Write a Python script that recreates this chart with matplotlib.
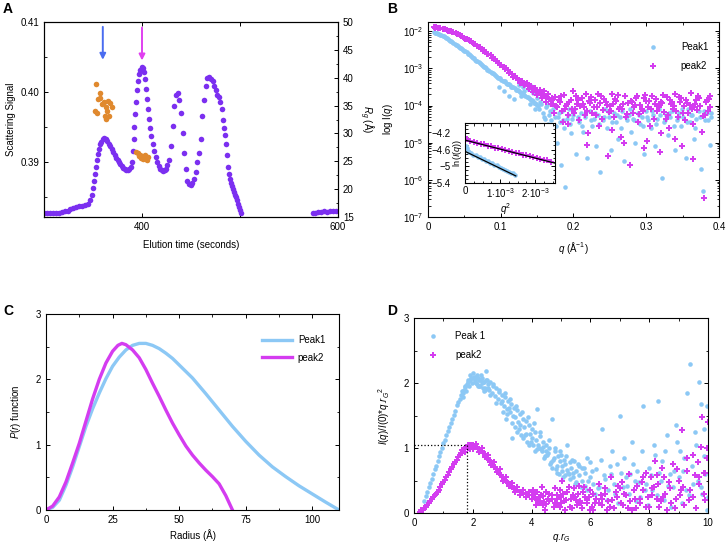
import matplotlib
matplotlib.use('Agg')
import matplotlib.pyplot as plt
from matplotlib.lines import Line2D
from matplotlib.ticker import MultipleLocator
import numpy as np

plt.rcParams['font.family'] = ['Liberation Sans', 'DejaVu Sans']
plt.rcParams['font.size'] = 7
plt.rcParams['mathtext.fontset'] = 'custom'
plt.rcParams['mathtext.rm'] = 'Liberation Sans'
plt.rcParams['mathtext.it'] = 'Liberation Sans:italic'
plt.rcParams['mathtext.bf'] = 'Liberation Sans:bold'
plt.rcParams['axes.linewidth'] = 0.8
plt.rcParams['xtick.direction'] = 'in'
plt.rcParams['ytick.direction'] = 'in'
plt.rcParams['xtick.major.size'] = 3
plt.rcParams['ytick.major.size'] = 3
plt.rcParams['xtick.minor.size'] = 1.8
plt.rcParams['ytick.minor.size'] = 1.8
plt.rcParams['xtick.major.width'] = 0.7
plt.rcParams['ytick.major.width'] = 0.7
plt.rcParams['xtick.minor.width'] = 0.6
plt.rcParams['ytick.minor.width'] = 0.6

purple = '#7b2ff0'
orange = '#e0892e'
lblue = '#8cc8f5'
magenta = '#d43cf0'

# ---- A: elution profile ----
elu_t = [300, 303, 306, 309, 312, 315, 318, 321, 324, 327, 330, 333, 336, 339, 342, 345, 347, 349,
         350.5, 351.5, 352.5, 353.5, 354.5, 355.5, 356.5, 357.5, 358.5, 360, 361.5, 363, 364.5, 366,
         367.5, 369, 370.5, 372, 373.5, 375, 376.5, 378, 379.5, 381, 382.5, 384, 385.5, 387, 388.5,
         389.5, 390.5, 391.5, 392.3, 393.2, 394, 395, 396, 397, 398, 399.5, 401, 402.3, 403.5, 404.5,
         405.5, 406.5, 407.5, 408.5, 409.5, 411, 412.5, 414, 415.5, 417, 418.5, 420, 421.5, 423, 424.5,
         426, 427.8, 429.5, 431.2, 432.9, 434.6, 436.3, 438, 439.7, 441.4, 443, 444.7, 446.4, 448,
         449.8, 451.5, 453.2, 455, 456.6, 458.3, 460, 461.7, 463.4, 465, 466.8, 468.5, 470, 472,
         473.5, 475.3, 477, 478.5, 480, 481.5, 483, 484, 485, 486, 487, 488, 489, 490, 491, 492, 493,
         494, 495, 496, 497, 498, 499, 500, 501,
         574, 577, 580, 583, 586, 589, 592, 595, 598]
elu_sig = [0.3827, 0.3827, 0.3827, 0.3827, 0.3827, 0.3827, 0.3828, 0.3829, 0.3830, 0.3832, 0.3834,
           0.3836, 0.3837, 0.3837, 0.3838, 0.3840, 0.3845, 0.3852,
           0.3862, 0.3872, 0.3882, 0.3892, 0.3902, 0.3911, 0.3919, 0.3925, 0.3929, 0.3932, 0.3934,
           0.3933, 0.3930, 0.3926, 0.3922, 0.3918, 0.3914, 0.3910, 0.3906, 0.3903, 0.3900, 0.3897,
           0.3894, 0.3891, 0.3889, 0.3888, 0.3888, 0.3889, 0.3892, 0.3900, 0.3915, 0.3932, 0.3950,
           0.3968, 0.3985, 0.4002, 0.4016, 0.4026, 0.4032, 0.4035, 0.4034, 0.4028, 0.4018, 0.4004,
           0.3990, 0.3975, 0.3961, 0.3948, 0.3937, 0.3926, 0.3916, 0.3907, 0.3900, 0.3894, 0.3890,
           0.3888, 0.3887, 0.3888, 0.3889, 0.3895, 0.3903, 0.3922, 0.3951, 0.3980, 0.3996, 0.3999,
           0.3989, 0.3970, 0.3941, 0.3913, 0.3889, 0.3872, 0.3868, 0.3867, 0.3869, 0.3875, 0.3886,
           0.3899, 0.3913, 0.3932, 0.3965, 0.3989, 0.4008, 0.4020, 0.4022, 0.4019, 0.4015, 0.4009,
           0.4003, 0.3996, 0.3992, 0.3985, 0.3976, 0.3960, 0.3948, 0.3939, 0.3925, 0.3910, 0.3893,
           0.3882, 0.3876, 0.3870, 0.3865, 0.3861, 0.3857, 0.3853, 0.3849, 0.3845, 0.3840, 0.3836,
           0.3831, 0.3827,
           0.38265, 0.3827, 0.3828, 0.3828, 0.3829, 0.3828, 0.3829, 0.3829, 0.3829]
rg_t = [353.2, 356.9, 355.0, 357.0, 352.5, 354.0, 359.6, 361.3, 363.0, 365.8, 367.5, 369.3, 364.1,
        361.8, 363.4, 366.0,
        394, 396, 398, 400, 402, 404, 406, 397, 401, 405, 403, 399]
rg_val = [38.8, 37.2, 36.2, 36.3, 34.0, 33.6, 35.3, 35.6, 34.8, 35.9, 35.5, 34.8, 34.0, 33.2, 32.6,
          33.1,
          26.6, 26.4, 26.2, 26.0, 25.7, 25.5, 25.8, 25.9, 25.4, 25.2, 26.1, 25.6]
arrow_t = [360, 400]
arrow_top = [0.4097, 0.4096]
arrow_tip = [0.4042, 0.4041]
arrow_col = ['#4a6cf0', '#e040f0']

# ---- B: scattering curves, log10 I ----
b1_q = [0.008, 0.011, 0.014, 0.017, 0.020, 0.023, 0.026, 0.029, 0.032, 0.035, 0.038, 0.041, 0.044,
        0.047, 0.050, 0.053, 0.056, 0.059, 0.062, 0.065, 0.068, 0.071, 0.074, 0.077, 0.080, 0.083,
        0.086, 0.089, 0.092, 0.095, 0.098, 0.101, 0.104, 0.107, 0.110, 0.113, 0.116, 0.119, 0.122,
        0.125, 0.128, 0.131, 0.134, 0.137, 0.140, 0.143, 0.146, 0.149,
        0.0095, 0.0125, 0.0155, 0.0185, 0.0215, 0.0245, 0.0275, 0.0305, 0.0335, 0.0365, 0.0395,
        0.0425, 0.0455, 0.0485, 0.0515, 0.0545, 0.0575, 0.0605, 0.0635, 0.0665, 0.0695, 0.0725,
        0.0755, 0.0785, 0.0815, 0.0845, 0.0875, 0.0905, 0.0935, 0.0965, 0.0995, 0.1025, 0.1055,
        0.1085, 0.1115, 0.1145, 0.1175, 0.1205, 0.1235, 0.1265, 0.1295, 0.1325, 0.1355, 0.1385,
        0.1415, 0.1445, 0.1475, 0.1505,
        0.125, 0.130, 0.135, 0.138, 0.142, 0.132, 0.145, 0.128, 0.140, 0.147, 0.105, 0.112, 0.118,
        0.098,
        0.150, 0.153, 0.156, 0.159, 0.162, 0.165, 0.168, 0.171, 0.174, 0.177, 0.180, 0.183, 0.186,
        0.189, 0.192, 0.195, 0.198, 0.201, 0.204, 0.207, 0.210, 0.213, 0.216, 0.219, 0.222, 0.225,
        0.228, 0.231, 0.234, 0.237, 0.240, 0.243, 0.246, 0.249, 0.252, 0.255, 0.258, 0.261, 0.264,
        0.267, 0.270, 0.273, 0.276, 0.279, 0.282, 0.285, 0.288, 0.291, 0.294, 0.297, 0.300, 0.303,
        0.306, 0.309, 0.312, 0.315, 0.318, 0.321, 0.324, 0.327, 0.330, 0.333, 0.336, 0.339, 0.342,
        0.345, 0.348, 0.351, 0.354, 0.357, 0.360, 0.363, 0.366, 0.369, 0.372, 0.375, 0.378, 0.381,
        0.384, 0.387, 0.389,
        0.1515, 0.1545, 0.1575, 0.1605, 0.1635, 0.1665, 0.1695, 0.1725, 0.1755, 0.1785, 0.1815,
        0.1845, 0.1875, 0.1905, 0.1935, 0.1965, 0.1995, 0.2055, 0.2115, 0.2175, 0.2235, 0.2295,
        0.2355, 0.2415, 0.2475, 0.2535, 0.2595, 0.2655, 0.2715, 0.2775, 0.2835, 0.2895, 0.2955,
        0.3015, 0.3075, 0.3135, 0.3195, 0.3255, 0.3315, 0.3375, 0.3435, 0.3495, 0.3555, 0.3615,
        0.3675, 0.3735, 0.3795, 0.3855, 0.3885]
b1_logI = [-2.02, -2.05, -2.06, -2.09, -2.12, -2.15, -2.19, -2.23, -2.27, -2.31, -2.36, -2.40, -2.44,
           -2.48, -2.53, -2.57, -2.62, -2.67, -2.72, -2.76, -2.81, -2.86, -2.90, -2.95, -3.00, -3.05,
           -3.10, -3.13, -3.18, -3.22, -3.26, -3.30, -3.34, -3.38, -3.42, -3.45, -3.50, -3.53, -3.58,
           -3.60, -3.66, -3.68, -3.74, -3.78, -3.82, -3.86, -3.92, -3.95,
           -2.04, -2.04, -2.08, -2.11, -2.13, -2.18, -2.20, -2.25, -2.29, -2.34, -2.37, -2.43, -2.45,
           -2.51, -2.54, -2.60, -2.63, -2.70, -2.73, -2.79, -2.83, -2.88, -2.93, -2.97, -3.03, -3.06,
           -3.12, -3.16, -3.20, -3.25, -3.27, -3.33, -3.35, -3.41, -3.43, -3.49, -3.51, -3.57, -3.59,
           -3.64, -3.67, -3.72, -3.76, -3.80, -3.85, -3.89, -3.94, -3.99,
           -3.45, -3.50, -3.42, -3.55, -3.48, -3.62, -3.65, -3.75, -3.95, -4.10, -3.62, -3.75, -3.82,
           -3.50,
           -3.80, -4.10, -3.95, -4.30, -4.05, -4.50, -4.15, -4.60, -4.30, -5.00, -4.20, -5.60, -4.40,
           -6.20, -4.25, -4.50, -4.35, -4.10, -5.30, -4.45, -4.20, -4.70, -4.30, -5.40, -4.15, -4.55,
           -4.35, -5.10, -4.25, -5.80, -4.40, -4.10, -4.60, -4.30, -5.20, -4.20, -4.45, -4.90, -4.30,
           -4.15, -5.50, -4.40, -4.25, -4.70, -4.35, -5.00, -4.20, -4.50, -4.30, -5.30, -4.15, -4.40,
           -4.60, -4.25, -5.10, -4.35, -4.10, -5.95, -4.45, -4.25, -4.80, -4.30, -4.15, -5.20, -4.40,
           -4.20, -4.55, -4.30, -5.40, -4.10, -4.45, -4.25, -4.90, -4.35, -4.15, -5.70, -6.30, -4.40,
           -4.20, -5.05, -4.30,
           -4.00, -3.90, -4.20, -4.35, -3.98, -4.25, -4.40, -4.10, -4.55, -4.30, -4.45, -4.15, -4.60,
           -4.35, -4.10, -4.75, -4.25, -4.30, -4.55, -4.15, -4.40, -4.20, -4.50, -4.30, -4.15, -4.45,
           -4.25, -4.60, -4.30, -4.10, -4.40, -4.25, -4.55, -4.30, -4.15, -4.50, -4.25, -4.40, -4.20,
           -4.55, -4.30, -4.10, -4.45, -4.25, -4.60, -4.30, -4.15, -4.40, -4.20]
b2_q = [0.008, 0.011, 0.014, 0.017, 0.020, 0.023, 0.026, 0.029, 0.032, 0.035, 0.038, 0.041, 0.044,
        0.047, 0.050, 0.053, 0.056, 0.059, 0.062, 0.065, 0.068, 0.071, 0.074, 0.077, 0.080, 0.083,
        0.086, 0.089, 0.092, 0.095, 0.098, 0.101, 0.104, 0.107, 0.110, 0.113, 0.116, 0.119, 0.122,
        0.125, 0.128, 0.131, 0.134, 0.137, 0.140, 0.143, 0.146, 0.149, 0.152, 0.155, 0.158, 0.161,
        0.164, 0.167, 0.170,
        0.0095, 0.0155, 0.0215, 0.0275, 0.0335, 0.0395, 0.0455, 0.0515, 0.0575, 0.0635, 0.0695,
        0.0755, 0.0815, 0.0875, 0.0935, 0.0995, 0.1055, 0.1115, 0.1175, 0.1235, 0.1265, 0.1295,
        0.1325, 0.1355, 0.1385, 0.1415, 0.1445, 0.1475, 0.1505, 0.1535, 0.1565, 0.1595, 0.1625,
        0.1655, 0.1685,
        0.172, 0.175, 0.178, 0.181, 0.184, 0.187, 0.190, 0.193, 0.196, 0.199, 0.202, 0.205, 0.208,
        0.211, 0.214, 0.217, 0.220, 0.223, 0.226, 0.229, 0.232, 0.235, 0.238, 0.241, 0.244, 0.247,
        0.250, 0.253, 0.256, 0.259, 0.262, 0.265, 0.268, 0.271, 0.274, 0.277, 0.280, 0.283, 0.286,
        0.289, 0.292, 0.295, 0.298, 0.301, 0.304, 0.307, 0.310, 0.313, 0.316, 0.319, 0.322, 0.325,
        0.328, 0.331, 0.334, 0.337, 0.340, 0.343, 0.346, 0.349, 0.352, 0.355, 0.358, 0.361, 0.364,
        0.367, 0.370, 0.373, 0.376, 0.379, 0.382, 0.385, 0.388,
        0.1735, 0.1795, 0.1855, 0.1915, 0.1975, 0.2035, 0.2095, 0.2155, 0.2215, 0.2275, 0.2335,
        0.2395, 0.2455, 0.2515, 0.2575, 0.2635, 0.2695, 0.2755, 0.2815, 0.2875, 0.2935, 0.2995,
        0.3055, 0.3115, 0.3175, 0.3235, 0.3295, 0.3355, 0.3415, 0.3475, 0.3535, 0.3595, 0.3655,
        0.3715, 0.3775, 0.3835, 0.3875, 0.2525, 0.2965, 0.3390, 0.2185, 0.3645, 0.1925, 0.3205,
        0.1705, 0.1765, 0.1825, 0.1885, 0.1945, 0.2005, 0.2065, 0.2125, 0.2185, 0.2245, 0.2305,
        0.2365, 0.2425, 0.2485, 0.2545, 0.2605, 0.2665, 0.2725, 0.2785, 0.2845, 0.2905, 0.2965,
        0.3025, 0.3085, 0.3145, 0.3205, 0.3265, 0.3325, 0.3385, 0.3445, 0.3505, 0.3565, 0.3625,
        0.3685, 0.3745, 0.3805, 0.3865]
b2_logI = [-1.88, -1.89, -1.90, -1.91, -1.93, -1.94, -1.96, -1.98, -2.00, -2.03, -2.05, -2.08, -2.11,
           -2.14, -2.17, -2.20, -2.24, -2.27, -2.31, -2.35, -2.39, -2.43, -2.47, -2.51, -2.56, -2.60,
           -2.65, -2.70, -2.75, -2.80, -2.85, -2.90, -2.95, -3.00, -3.05, -3.10, -3.15, -3.20, -3.25,
           -3.30, -3.34, -3.39, -3.43, -3.47, -3.51, -3.55, -3.58, -3.62, -3.66, -3.69, -3.72, -3.75,
           -3.78, -3.82, -3.85,
           -1.90, -1.92, -1.95, -1.99, -2.03, -2.08, -2.14, -2.21, -2.27, -2.35, -2.43, -2.52, -2.60,
           -2.71, -2.81, -2.91, -3.02, -3.12, -3.23, -3.31, -3.38, -3.33, -3.45, -3.40, -3.55, -3.46,
           -3.64, -3.52, -3.72, -3.58, -3.80, -3.62, -3.90, -3.70, -3.95,
           -3.95, -3.78, -4.05, -3.90, -4.15, -3.72, -4.00, -4.25, -3.85, -3.62, -4.10, -3.95, -4.40,
           -3.80, -4.05, -3.70, -4.75, -3.92, -4.20, -3.85, -4.05, -4.55, -3.75, -4.12, -3.90, -5.35,
           -4.00, -3.68, -4.30, -3.88, -4.10, -4.85, -3.95, -3.75, -4.22, -5.60, -3.90, -4.05, -3.80,
           -4.45, -3.98, -4.15, -3.72, -4.95, -3.88, -4.10, -4.35, -3.82, -4.00, -5.25, -3.92, -4.18,
           -3.78, -4.60, -3.95, -4.08, -3.70, -4.30, -3.90, -5.10, -4.02, -3.85, -4.20, -3.66, -4.50,
           -3.95, -4.12, -3.80, -4.70, -6.50, -3.90, -4.15, -3.75,
           -4.20, -3.85, -4.45, -3.95, -4.10, -3.75, -4.00, -4.25, -3.88, -4.05, -3.70, -4.35, -3.98,
           -4.15, -3.82, -4.05, -5.00, -3.92, -4.20, -3.75, -4.10, -3.88, -4.55, -3.95, -4.05, -3.72,
           -4.25, -3.90, -4.15, -3.80, -4.40, -3.98, -4.05, -3.75, -4.28, -3.85, -4.05, -4.65, -5.15,
           -4.90, -5.05, -5.45, -4.50, -4.75,
           -3.80, -4.00, -3.75, -4.10, -3.90, -4.20, -3.85, -3.95, -4.15, -3.78, -4.25, -3.92, -3.82,
           -4.18, -3.95, -3.72, -4.10, -4.30, -3.88, -3.98, -4.22, -3.80, -4.05, -3.75, -4.15, -3.90,
           -4.35, -3.85, -4.02, -3.78, -4.20, -3.92, -4.10, -3.85, -4.00, -4.25, -3.82]

# inset: Guinier region, ln I vs q^2
g1_q2 = [0.00002, 0.00004, 0.00006, 0.00008, 0.00012, 0.00018, 0.00024, 0.00030, 0.00036, 0.00042,
         0.00048, 0.00054, 0.00060, 0.00066, 0.00072, 0.00078, 0.00084, 0.00090, 0.00096, 0.00102,
         0.00108, 0.00114, 0.00120, 0.00126, 0.00132, 0.00138, 0.00144]
g1_lnI = [-4.52, -4.58, -4.55, -4.63, -4.66, -4.68, -4.72, -4.73, -4.77, -4.78, -4.82, -4.83, -4.87,
          -4.88, -4.92, -4.93, -4.97, -4.98, -5.02, -5.03, -5.07, -5.08, -5.12, -5.13, -5.16, -5.17,
          -5.20]
g2_q2 = [0.00005, 0.00015, 0.00025, 0.00035, 0.00045, 0.00055, 0.00065, 0.00075, 0.00085, 0.00095,
         0.00105, 0.00115, 0.00125, 0.00135, 0.00145, 0.00155, 0.00165, 0.00175, 0.00185, 0.00195,
         0.00205, 0.00215, 0.00225, 0.00235, 0.00245]
g2_lnI = [-4.35, -4.40, -4.41, -4.43, -4.46, -4.47, -4.51, -4.52, -4.55, -4.56, -4.59, -4.61, -4.63,
          -4.65, -4.67, -4.69, -4.72, -4.73, -4.76, -4.78, -4.80, -4.82, -4.85, -4.86, -4.89]
fit1_q2 = [0.0, 0.00145]
fit1_ln = [-4.64, -5.23]
fit2_q2 = [0.0, 0.0026]
fit2_ln = [-4.37, -4.93]

# ---- C: pair distance distributions ----
pr1_r = [0, 2.5, 5, 7.5, 10, 12.5, 15, 17.5, 20, 22.5, 25, 27.5, 30, 32.5, 35, 37.5, 40, 42.5, 45,
         47.5, 50, 55, 60, 65, 70, 75, 80, 85, 90, 95, 100, 105, 110]
pr1_p = [0, 0.04, 0.15, 0.38, 0.66, 0.97, 1.28, 1.55, 1.79, 2.01, 2.20, 2.34, 2.45, 2.52, 2.55, 2.55,
         2.52, 2.47, 2.40, 2.32, 2.22, 2.02, 1.78, 1.53, 1.28, 1.05, 0.84, 0.66, 0.51, 0.37, 0.245,
         0.12, 0]
pr2_r = [0, 2.5, 5, 7.5, 10, 12.5, 15, 17.5, 20, 22.5, 25, 27, 28.5, 30, 32.5, 35, 37.5, 40, 42.5, 45,
         47.5, 50, 52.5, 55, 57.5, 60, 62.5, 65, 67.5, 70]
pr2_p = [0, 0.06, 0.2, 0.43, 0.72, 1.02, 1.36, 1.70, 2.00, 2.25, 2.43, 2.52, 2.55, 2.53, 2.45, 2.33,
         2.15, 1.94, 1.74, 1.53, 1.33, 1.15, 0.98, 0.84, 0.72, 0.61, 0.51, 0.40, 0.22, 0]

# ---- D: dimensionless Kratky ----
k1_x = [0.35, 0.40, 0.45, 0.50, 0.55, 0.60, 0.65, 0.70, 0.75, 0.80, 0.85, 0.90, 0.95, 1.00, 1.05,
        1.10, 1.15, 1.20, 1.25, 1.30, 1.35, 1.40, 1.45, 1.50, 1.55, 1.60, 1.65, 1.70, 1.75, 1.80,
        1.85, 1.90, 1.95, 2.00,
        1.62, 1.68, 1.72, 1.78, 1.82, 1.88, 1.92, 1.98, 2.02, 2.06, 2.10, 2.14, 2.18, 2.22, 2.26,
        2.30, 2.34, 2.38, 2.42, 2.46, 2.50,
        2.05, 2.10, 2.15, 2.20, 2.25, 2.30, 2.35, 2.40, 2.45, 2.50, 2.55, 2.60, 2.65, 2.70, 2.75,
        2.80, 2.85, 2.90, 2.95, 3.00, 3.05, 3.10, 3.15, 3.20, 3.25, 3.30, 3.35, 3.40, 3.45, 3.50,
        3.55, 3.60, 3.65, 3.70, 3.75, 3.80, 3.85, 3.90, 3.95, 4.00, 4.05, 4.10, 4.15, 4.20, 4.25,
        4.30, 4.35, 4.40, 4.45, 4.50, 4.55, 4.60, 4.65, 4.70, 4.75, 4.80, 4.85, 4.90, 4.95, 5.00,
        5.05, 5.10, 5.15, 5.20, 5.25, 5.30, 5.35, 5.40, 5.45, 5.50, 5.60, 5.70, 5.80, 5.90, 6.00,
        6.10, 6.20, 6.30, 6.40, 6.50, 6.60, 6.70, 6.80, 6.90, 7.00, 7.10, 7.20, 7.30, 7.40, 7.50,
        7.60, 7.70, 7.80, 7.90, 8.00, 8.10, 8.20, 8.30, 8.40, 8.50, 8.60, 8.70, 8.80, 8.90, 9.00,
        9.10, 9.20, 9.30, 9.40, 9.50, 9.60, 9.70, 9.75, 9.80, 9.85, 9.90, 9.95, 10.0,
        3.02, 3.12, 3.22, 3.32, 3.42, 3.52, 3.62, 3.72, 3.82, 3.92, 4.02, 4.12, 4.22, 4.32, 4.42,
        4.52, 4.62, 4.72, 4.82, 4.92, 5.02, 5.12, 5.22, 5.32, 5.42, 5.52, 5.62, 5.72, 5.82, 5.92,
        6.05, 6.25, 6.45, 6.65, 6.85, 7.05, 7.25, 7.45, 7.65, 7.85, 8.05, 8.25, 8.45, 8.65, 8.85,
        9.05, 9.25, 9.45, 9.65, 9.85,
        2.08, 2.18, 2.28, 2.38, 2.48, 2.58, 2.68, 2.78, 2.88, 2.98, 3.08, 3.18, 3.28, 3.38, 3.48,
        3.58, 3.68, 3.78, 3.88, 3.98, 4.08, 4.18, 4.28, 4.38, 4.48, 4.58, 4.68, 4.78, 4.88, 4.98,
        5.08, 5.18, 5.28, 5.38, 5.48, 5.58, 5.68, 5.78, 5.88, 5.98, 6.15, 6.35, 6.55, 6.75, 6.95,
        7.15, 7.35, 7.55, 7.75, 7.95, 8.15, 8.35, 8.55, 8.75, 8.95, 9.15, 9.35, 9.55, 9.75, 9.95]
k1_y = [0.19, 0.26, 0.33, 0.40, 0.46, 0.53, 0.60, 0.67, 0.73, 0.80, 0.87, 0.94, 1.00, 1.07, 1.13,
        1.20, 1.26, 1.33, 1.39, 1.45, 1.51, 1.57, 1.66, 1.71, 1.76, 1.81, 1.85, 1.90, 1.94, 1.98,
        2.01, 2.04, 2.07, 2.08,
        1.88, 1.78, 1.95, 1.88, 2.05, 1.95, 2.12, 2.00, 2.15, 2.02, 2.10, 1.98, 2.07, 1.95, 2.05,
        2.00, 1.92, 2.02, 1.90, 2.18, 1.93,
        2.10, 2.00, 2.12, 2.05, 1.96, 2.08, 2.02, 1.92, 2.05, 1.98, 1.90, 2.02, 1.85, 1.95, 1.80,
        1.92, 1.75, 1.86, 1.70, 1.82, 1.65, 1.78, 1.60, 1.72, 1.55, 1.68, 1.15, 1.62, 1.48, 1.58,
        1.40, 1.52, 1.20, 1.45, 1.32, 1.42, 1.10, 1.35, 1.22, 1.30, 1.05, 1.25, 1.12, 1.60, 1.00,
        1.18, 0.95, 1.10, 0.88, 1.05, 0.92, 1.00, 0.78, 1.45, 0.85, 0.95, 0.72, 0.88, 0.80, 0.90,
        0.65, 0.82, 0.75, 1.05, 0.62, 0.78, 0.70, 0.55, 0.80, 0.65, 0.72, 0.50, 0.62, 0.85, 0.55,
        0.45, 0.68, 0.40, 1.30, 0.52, 0.35, 0.60, 0.45, 0.75, 1.50, 0.40, 0.55, 0.30, 1.10, 0.50,
        0.65, 0.25, 1.65, 0.45, 0.70, 0.35, 0.90, 1.72, 0.50, 0.20, 1.20, 0.60, 0.40, 1.35, 0.55,
        0.15, 0.85, 1.85, 2.30, 0.45, 1.05, 2.02, 1.68, 0.30, 1.30, 0.60, 1.65, 0.25,
        1.55, 1.45, 1.62, 1.38, 1.32, 1.25, 1.35, 1.15, 1.22, 1.05, 1.15, 0.95, 1.05, 0.98, 0.85,
        0.90, 0.75, 0.82, 0.68, 0.60, 0.72, 0.58, 0.66, 0.52, 0.62, 0.48, 0.58, 0.70, 0.42, 0.50,
        0.65, 0.38, 0.58, 0.72, 0.30, 0.62, 0.42, 0.75, 0.48, 0.35, 0.58, 0.28, 0.80, 0.42, 0.65,
        0.95, 0.35, 0.72, 0.50, 0.88,
        2.05, 1.96, 2.12, 1.88, 2.05, 1.82, 1.98, 1.70, 1.90, 1.72, 1.85, 1.52, 1.75, 1.50, 1.65,
        1.30, 1.55, 1.20, 1.48, 1.10, 1.38, 0.98, 1.25, 1.02, 0.95, 1.12, 0.70, 1.00, 0.62, 0.95,
        0.55, 0.88, 0.60, 0.82, 0.45, 0.75, 0.40, 0.70, 0.35, 0.78, 0.30, 0.82, 0.20, 0.95, 0.15,
        0.85, 0.60, 0.18, 0.95, 0.12, 1.05, 0.62, 0.95, 0.10, 1.10, 0.65, 0.28, 1.25, 0.40, 0.05]
k2_x = [0.20, 0.25, 0.30, 0.35, 0.40, 0.45, 0.50, 0.55, 0.60, 0.65, 0.70, 0.75, 0.80, 0.85, 0.90,
        0.95, 1.00, 1.05, 1.10, 1.15, 1.20, 1.25, 1.30, 1.35, 1.40, 1.45, 1.50, 1.55, 1.60, 1.65,
        1.70, 1.75, 1.80, 1.85, 1.90, 1.95, 2.00, 2.05, 2.10, 2.15, 2.20, 2.25, 2.30, 2.35, 2.40,
        2.45, 2.50, 2.55, 2.60, 2.65, 2.70, 2.75, 2.80, 2.85, 2.90, 2.95, 3.00, 3.05, 3.10, 3.15,
        3.20, 3.25, 3.30, 3.35, 3.40, 3.45, 3.50, 3.60, 3.70, 3.80, 3.90, 4.00,
        1.62, 1.72, 1.82, 1.92, 2.02, 2.12, 2.22, 2.32, 2.42, 2.52, 2.62, 2.72, 2.82, 2.92, 3.02,
        3.12, 3.22, 3.32, 3.42, 3.52, 3.62, 3.72, 3.82, 3.92, 4.02, 4.12, 4.22, 4.32, 4.42,
        4.10, 4.20, 4.30, 4.40, 4.50, 4.60, 4.70, 4.80, 4.90, 5.00, 5.05, 5.10, 5.20, 5.30, 5.40,
        5.50, 5.60, 5.70, 5.80, 5.90, 6.00, 6.10, 6.20, 6.30, 6.40, 6.50, 6.60, 6.70, 6.80, 6.90,
        7.00, 7.10, 7.20, 7.30, 7.40, 7.50, 7.60, 7.70, 7.80, 7.90, 8.00, 8.10, 8.20, 8.30, 8.40,
        8.50, 8.60, 8.70, 8.80, 8.90, 9.00, 9.10, 9.20, 9.30, 9.40, 9.50, 9.60, 9.70, 9.75, 9.80,
        9.85, 9.90, 9.95, 10.0,
        4.15, 4.35, 4.55, 4.75, 4.95, 5.15, 5.35, 5.55, 5.75, 5.95, 6.15, 6.35, 6.55, 6.75, 6.95,
        7.15, 7.35, 7.55, 7.75, 7.95, 8.15, 8.35, 8.55, 8.75, 8.95, 9.15, 9.35, 9.55, 9.65, 9.90,
        8.05, 8.45, 9.05, 7.05, 6.05, 5.45, 4.85, 4.45, 4.25, 5.65,
        4.05, 4.18, 4.28, 4.38, 4.48, 4.58, 4.68, 4.78, 4.88, 4.98, 5.08, 5.18, 5.28, 5.38, 5.48,
        5.58, 5.68, 5.78, 5.88, 5.98, 6.08, 6.28, 6.48, 6.68, 6.88, 7.08, 7.28, 7.48, 7.68, 7.88,
        8.08, 8.28, 8.48, 8.68, 8.88, 9.08, 9.28, 9.48, 9.68, 9.88, 9.98, 8.25, 7.80, 6.40, 5.00]
k2_y = [0.02, 0.04, 0.05, 0.07, 0.09, 0.12, 0.15, 0.18, 0.21, 0.24, 0.27, 0.30, 0.33, 0.36, 0.40,
        0.44, 0.47, 0.51, 0.55, 0.59, 0.63, 0.67, 0.71, 0.75, 0.78, 0.82, 0.86, 0.89, 0.92, 0.95,
        0.98, 1.00, 1.02, 1.04, 1.05, 1.05, 1.04, 1.03, 1.02, 1.01, 0.99, 0.97, 0.95, 0.93, 0.91,
        0.88, 0.85, 0.82, 0.79, 0.77, 0.74, 0.71, 0.68, 0.65, 0.62, 0.59, 0.56, 0.53, 0.51, 0.48,
        0.46, 0.44, 0.42, 0.40, 0.38, 0.37, 0.35, 0.33, 0.31, 0.29, 0.28, 0.27,
        0.97, 0.94, 1.00, 0.99, 0.98, 1.06, 0.94, 1.00, 0.86, 0.90, 0.74, 0.78, 0.63, 0.67, 0.50,
        0.55, 0.41, 0.46, 0.33, 0.40, 0.28, 0.36, 0.24, 0.33, 0.22, 0.30, 0.19, 0.28, 0.17,
        0.24, 0.33, 0.18, 0.26, 0.14, 0.30, 0.22, 0.38, 0.12, 0.25, 0.50, 0.18, 0.32, 0.10, 0.28,
        0.20, 0.42, 0.08, 0.25, 0.15, 0.35, 0.05, 0.22, 0.45, 0.12, 0.30, 0.18, 0.55, 0.08, 0.25,
        0.38, 0.12, 0.28, 0.60, 0.05, 0.22, 0.42, 0.15, 0.35, 0.62, 0.10, 0.28, 0.80, 0.45, 0.18,
        0.55, 0.05, 0.38, 0.75, 0.22, 0.50, 1.28, 0.12, 0.65, 0.35, 0.90, 0.08, 0.45, 1.02, 1.48,
        0.62, 0.20, 1.00, 1.40,
        0.12, 0.40, 0.22, 0.10, 0.35, 0.05, 0.22, 0.12, 0.32, 0.25, 0.15, 0.28, 0.05, 0.20, 0.42,
        0.30, 0.18, 0.08, 0.48, 0.25, 0.40, 0.10, 0.30, 0.15, 0.68, 0.40, 0.20, 0.58, 0.78, 0.62,
        0.55, 0.70, 0.28, 0.15, 0.10, 0.38, 0.28, 0.05, 0.15, 0.18,
        0.35, 0.20, 0.25, 0.12, 0.32, 0.18, 0.28, 0.15, 0.22, 0.10, 0.30, 0.20, 0.40, 0.08, 0.25,
        0.30, 0.15, 0.40, 0.20, 0.05, 0.30, 0.15, 0.38, 0.10, 0.32, 0.48, 0.08, 0.35, 0.22, 0.10,
        0.38, 0.58, 0.25, 0.48, 0.08, 0.35, 0.85, 0.25, 0.55, 0.30, 0.85, 0.22, 0.55, 0.22, 0.15]
guide_x = [0, 1.8, 1.8]
guide_y = [1.05, 1.05, 0]

fig = plt.figure(figsize=(7.27, 5.44), dpi=100)
W, H = 727.0, 544.0


def box(l, t, r, b):
    return [l / W, 1 - b / H, (r - l) / W, (b - t) / H]


# ---------------- A ----------------
axA = fig.add_axes(box(44, 22, 338, 217))
axA.plot(elu_t, elu_sig, 'o', color=purple, ms=4, mew=0)
axA.set_xlim(300, 600)
axA.set_ylim(0.3821, 0.41)
axA.set_xticks([400, 500, 600])
axA.set_xticklabels(['400', '', '600'])
axA.set_yticks([0.39, 0.40, 0.41])
axA.set_yticklabels(['0.39', '0.40', '0.41'])
axA.yaxis.set_minor_locator(MultipleLocator(0.005))
axA.tick_params(top=True, which='both')
axA.set_xlabel('Elution time (seconds)')
axA.xaxis.set_label_coords(0.5, -0.12)
axA.set_ylabel('Scattering Signal')
axA.yaxis.set_label_coords(-0.095, 0.5)
for t0, y0, y1, c in zip(arrow_t, arrow_top, arrow_tip, arrow_col):
    axA.annotate('', xy=(t0, y1), xytext=(t0, y0),
                 arrowprops=dict(arrowstyle='-|>,head_width=0.25,head_length=0.5', color=c, lw=1.4))
axA2 = axA.twinx()
axA2.plot(rg_t, rg_val, 'o', color=orange, ms=4, mew=0)
axA2.set_ylim(15, 50)
axA2.set_yticks(np.arange(15, 51, 5))
axA2.yaxis.set_minor_locator(MultipleLocator(2.5))
axA2.tick_params(which='both', direction='in')
axA2.set_ylabel('$R_g$ (Å)', rotation=270, va='bottom')
axA2.yaxis.set_label_coords(1.065, 0.5)

# ---------------- B ----------------
axB = fig.add_axes(box(428, 22, 719, 217))
axB.plot(b1_q, np.power(10.0, b1_logI), 'o', color=lblue, ms=3.3, mew=0)
axB.plot(b2_q, np.power(10.0, b2_logI), 'P', color=magenta, ms=4, mew=0)
axB.set_yscale('log')
axB.set_ylim(1e-7, 10 ** -1.75)
axB.set_xlim(0, 0.4)
axB.set_xticks([0, 0.1, 0.2, 0.3, 0.4])
axB.set_xticklabels(['0', '0.1', '0.2', '0.3', '0.4'])
axB.xaxis.set_minor_locator(MultipleLocator(0.05))
axB.tick_params(top=True, right=True, which='both')
axB.set_xlabel('$q$ (Å$^{-1}$)')
axB.xaxis.set_label_coords(0.5, -0.12)
axB.set_ylabel('log I($q$)')
axB.yaxis.set_label_coords(-0.113, 0.5)
hB = [Line2D([], [], marker='o', color=lblue, ls='none', ms=3.3, mew=0),
      Line2D([], [], marker='P', color=magenta, ls='none', ms=4, mew=0)]
axB.legend(hB, ['Peak1', 'peak2'], loc='upper left', bbox_to_anchor=(0.725, 0.94), frameon=False,
           handlelength=1.0, handletextpad=2.4, labelspacing=0.9, numpoints=1)

axI = fig.add_axes(box(465, 123, 555, 183))
axI.plot(g1_q2, g1_lnI, 'o', color=lblue, ms=3.3, mew=0)
axI.plot(g2_q2, g2_lnI, 'P', color=magenta, ms=4, mew=0)
axI.plot(fit1_q2, fit1_ln, '-', color='black', lw=0.9)
axI.plot(fit2_q2, fit2_ln, '-', color='black', lw=0.9)
axI.set_xlim(0, 0.00257)
axI.set_ylim(-5.4, -3.96)
axI.set_xticks([0, 0.001, 0.002])
axI.set_xticklabels(['0', r'$1{\cdot}10^{-3}$', r'$2{\cdot}10^{-3}$'])
axI.xaxis.set_minor_locator(MultipleLocator(0.00025))
axI.set_yticks([-4.2, -4.6, -5.0, -5.4])
axI.set_yticklabels(['−4.2', '−4.6', '−5', '−5.4'])
axI.yaxis.set_minor_locator(MultipleLocator(0.1))
axI.tick_params(top=True, right=True, which='both', pad=2)
axI.tick_params(axis='y', pad=10)
axI.set_xlabel('$q^2$')
axI.xaxis.set_label_coords(0.45, -0.3)
axI.set_ylabel('ln($I$($q$))', fontsize=6.5)
axI.yaxis.set_label_coords(-0.015, 0.5)

# ---------------- C ----------------
axC = fig.add_axes(box(46, 314, 339, 510))
axC.plot(pr1_r, pr1_p, '-', color=lblue, lw=2.4, label='Peak1')
axC.plot(pr2_r, pr2_p, '-', color=magenta, lw=2.4, label='peak2')
axC.set_xlim(0, 110)
axC.set_ylim(0, 3)
axC.set_xticks([0, 25, 50, 75, 100])
axC.xaxis.set_minor_locator(MultipleLocator(12.5))
axC.set_yticks([0, 1, 2, 3])
axC.yaxis.set_minor_locator(MultipleLocator(0.5))
axC.tick_params(top=True, right=True, which='both')
axC.set_xlabel('Radius (Å)')
axC.xaxis.set_label_coords(0.5, -0.1)
axC.set_ylabel('$P$($r$) function')
axC.yaxis.set_label_coords(-0.078, 0.5)
axC.legend(loc='upper left', bbox_to_anchor=(0.706, 0.936), frameon=False,
           handlelength=3.1, handletextpad=0.62, labelspacing=0.75)

# ---------------- D ----------------
axD = fig.add_axes(box(414, 318, 708, 513))
axD.plot(k1_x, k1_y, 'o', color=lblue, ms=3.3, mew=0)
axD.plot(k2_x, k2_y, 'P', color=magenta, ms=4, mew=0)
axD.plot(guide_x, guide_y, ':', color='black', lw=0.9)
axD.set_xlim(0, 10)
axD.set_ylim(0, 3)
axD.set_xticks([0, 2, 4, 6, 8, 10])
axD.xaxis.set_minor_locator(MultipleLocator(1))
axD.set_yticks([0, 1, 2, 3])
axD.yaxis.set_minor_locator(MultipleLocator(0.5))
axD.tick_params(top=True, right=True, which='both')
axD.set_xlabel('$q$.$r_G$')
axD.xaxis.set_label_coords(0.5, -0.09)
axD.set_ylabel('$I$($q$)/$I$(0)*$q$.$r_G$$^2$')
axD.yaxis.set_label_coords(-0.075, 0.5)
hD = [Line2D([], [], marker='o', color=lblue, ls='none', ms=3.3, mew=0),
      Line2D([], [], marker='P', color=magenta, ls='none', ms=4, mew=0)]
axD.legend(hD, ['Peak 1', 'peak2'], loc='upper left', bbox_to_anchor=(0.018, 0.976), frameon=False,
           handlelength=1.0, handletextpad=1.77, labelspacing=0.9, numpoints=1)

for lab, x0, y0 in [('A', 3, 2), ('B', 387, 2), ('C', 3, 304), ('D', 387, 304)]:
    fig.text(x0 / W, 1 - y0 / H, lab, ha='left', va='top', fontsize=10, fontweight='bold')

fig.savefig('out.png', dpi=100)
